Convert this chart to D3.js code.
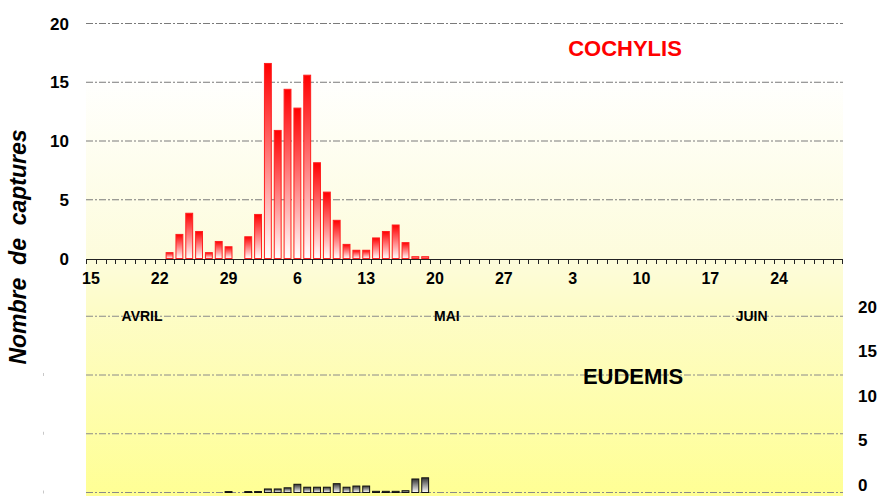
<!DOCTYPE html>
<html>
<head>
<meta charset="utf-8">
<script src="https://cdn.jsdelivr.net/npm/d3@7"></script>
<style>
  body { margin: 0; background: #fff; }
  text { font-family: Arial, "Liberation Sans", sans-serif; font-weight: bold; }
</style>
</head>
<body>
<svg id="chart" width="879" height="496"></svg>
<script>
// categories: one per day, 15 april -> 30 june
const days = d3.timeDay.range(new Date(2009, 3, 15), new Date(2009, 6, 1));
const dayKey = d3.timeFormat("%m-%d");

// tick labels (every 7 days) and month labels
const tickLabels = ["15", "22", "29", "6", "13", "20", "27", "3", "10", "17", "24"];
const months = [
  { name: "AVRIL", day: "04-20" },
  { name: "MAI", day: "05-21" },
  { name: "JUIN", day: "06-21" }
];

// COCHYLIS captures
const cochylisDays = ["04-23", "04-24", "04-25", "04-26", "04-27", "04-28", "04-29", "05-01",
  "05-02", "05-03", "05-04", "05-05", "05-06", "05-07", "05-08", "05-09", "05-10", "05-11",
  "05-12", "05-13", "05-14", "05-15", "05-16", "05-17", "05-18", "05-19"];
const cochylisValues = [0.5, 2.05, 3.85, 2.3, 0.5, 1.45, 1.0, 1.85,
  3.75, 16.6, 10.9, 14.4, 12.8, 15.6, 8.15, 5.65, 3.25, 1.2,
  0.7, 0.7, 1.75, 2.3, 2.85, 1.35, 0.15, 0.15];

// EUDEMIS captures
const eudemisDays = ["04-29", "05-01", "05-02", "05-03", "05-04", "05-05", "05-06", "05-07",
  "05-08", "05-09", "05-10", "05-11", "05-12", "05-13", "05-14", "05-15", "05-16", "05-17",
  "05-18", "05-19"];
const eudemisValues = [0.08, 0.08, 0.08, 0.3, 0.3, 0.4, 0.7, 0.45,
  0.45, 0.45, 0.75, 0.45, 0.55, 0.55, 0.1, 0.1, 0.1, 0.15,
  1.15, 1.25];

const yTicks = [0, 5, 10, 15, 20];

const svg = d3.select("#chart");
const left = 86, right = 843;

// scales
const xDay = d3.scaleBand().domain(days.map(dayKey)).range([left, right]);
const xBar = d3.scaleBand().domain(days.map(dayKey)).range([left, right])
  .paddingInner(0.3).paddingOuter(0.15);
const yTop = d3.scaleLinear().domain([0, 20]).range([258.5, 23.5]);
const yBot = d3.scaleLinear().domain([0, 20]).range([492.5, 257.5]);
const yRight = d3.scaleLinear().domain([0, 20]).range([485, 306.5]);

// gradients
const defs = svg.append("defs");
const bg = defs.append("linearGradient").attr("id", "bg")
  .attr("x1", 0).attr("y1", 0).attr("x2", 0).attr("y2", 1);
bg.append("stop").attr("offset", "0%").attr("stop-color", "#ffffff");
bg.append("stop").attr("offset", "15%").attr("stop-color", "#ffffff");
bg.append("stop").attr("offset", "52%").attr("stop-color", "#fdfcdc");
bg.append("stop").attr("offset", "62%").attr("stop-color", "#fdfcc8");
bg.append("stop").attr("offset", "100%").attr("stop-color", "#ffff94");

const red = defs.append("linearGradient").attr("id", "redBar")
  .attr("x1", 0).attr("y1", 0).attr("x2", 0).attr("y2", 1);
red.append("stop").attr("offset", "0%").attr("stop-color", "#ff0000");
red.append("stop").attr("offset", "100%").attr("stop-color", "#ffffff");

const grey = defs.append("linearGradient").attr("id", "greyBar")
  .attr("x1", 0).attr("y1", 0).attr("x2", 0).attr("y2", 1);
grey.append("stop").attr("offset", "0%").attr("stop-color", "#333333");
grey.append("stop").attr("offset", "100%").attr("stop-color", "#ffffff");

// plot background
svg.append("rect")
  .attr("x", left).attr("y", 0)
  .attr("width", right - left).attr("height", 496)
  .attr("fill", "url(#bg)");

// gridlines
const dash = "7,2,2,2";
svg.append("g").selectAll("line")
  .data(yTicks.filter(d => d > 0))
  .enter().append("line")
  .attr("x1", left).attr("x2", right)
  .attr("y1", d => yTop(d)).attr("y2", d => yTop(d))
  .attr("stroke", "#7a7a7a").attr("stroke-dasharray", dash);

svg.append("g").selectAll("line")
  .data(yTicks.filter(d => d < 20))
  .enter().append("line")
  .attr("x1", left).attr("x2", right)
  .attr("y1", d => yBot(d)).attr("y2", d => yBot(d))
  .attr("stroke", "#8a8a8a").attr("stroke-dasharray", dash);

// small leftover marks left of the lower chart
svg.append("g").selectAll("line")
  .data([0, 5, 10])
  .enter().append("line")
  .attr("x1", 43.5).attr("x2", 43.5)
  .attr("y1", d => yBot(d) - 2).attr("y2", d => yBot(d) + 1)
  .attr("stroke", "#c8c8c8");

// top y labels
svg.append("g").selectAll("text")
  .data(yTicks)
  .enter().append("text")
  .attr("x", 69).attr("y", d => yTop(d))
  .attr("dy", "0.36em")
  .attr("text-anchor", "end")
  .style("font-size", "17px")
  .text(d => d);

// right y labels (lower chart)
svg.append("g").selectAll("text")
  .data(yTicks)
  .enter().append("text")
  .attr("x", 858).attr("y", d => yRight(d))
  .attr("dy", "0.36em")
  .style("font-size", "17px")
  .text(d => d);

// COCHYLIS bars
const cochylis = cochylisDays.map((d, i) => ({ day: d, v: cochylisValues[i] }));
svg.append("g").selectAll("rect")
  .data(cochylis)
  .enter().append("rect")
  .attr("x", d => xBar(d.day))
  .attr("width", xBar.bandwidth())
  .attr("y", d => yTop(d.v))
  .attr("height", d => yTop(0) - yTop(d.v))
  .attr("fill", "url(#redBar)")
  .attr("stroke", "#ff2020").attr("stroke-width", 1);

// EUDEMIS bars
const eudemis = eudemisDays.map((d, i) => ({ day: d, v: eudemisValues[i] }));
svg.append("g").selectAll("rect")
  .data(eudemis)
  .enter().append("rect")
  .attr("x", d => xBar(d.day))
  .attr("width", xBar.bandwidth())
  .attr("y", d => yBot(d.v))
  .attr("height", d => yBot(0) - yBot(d.v))
  .attr("fill", "url(#greyBar)")
  .attr("stroke", "#111").attr("stroke-width", 1);

// x axis of the top chart
const axisY = 259.5;
svg.append("line")
  .attr("x1", left).attr("x2", right)
  .attr("y1", axisY).attr("y2", axisY)
  .attr("stroke", "#222");
svg.append("g").selectAll("line")
  .data(days.map(dayKey).concat(["end"]))
  .enter().append("line")
  .attr("x1", d => d === "end" ? right - 0.5 : Math.round(xDay(d)) + 0.5)
  .attr("x2", d => d === "end" ? right - 0.5 : Math.round(xDay(d)) + 0.5)
  .attr("y1", axisY).attr("y2", axisY + 4.5)
  .attr("stroke", "#222");

// x tick labels every 7 days
svg.append("g").selectAll("text")
  .data(tickLabels)
  .enter().append("text")
  .attr("x", (d, i) => xDay(dayKey(days[i * 7])) + xDay.bandwidth() / 2)
  .attr("y", 278)
  .attr("dy", "0.36em")
  .attr("text-anchor", "middle")
  .style("font-size", "16px")
  .text(d => d);

// month labels on the lower chart
svg.append("g").selectAll("text")
  .data(months)
  .enter().append("text")
  .attr("x", d => xDay(d.day) + xDay.bandwidth() / 2 + 2)
  .attr("y", yBot(15))
  .attr("dy", "0.36em")
  .attr("text-anchor", "middle")
  .style("font-size", "14px")
  .text(d => d.name);

// series names
svg.append("text")
  .attr("x", 625).attr("y", 48)
  .attr("dy", "0.36em")
  .attr("text-anchor", "middle")
  .attr("fill", "#ff0000")
  .style("font-size", "22px")
  .text("COCHYLIS");

svg.append("text")
  .attr("x", 633).attr("y", 376.5)
  .attr("dy", "0.36em")
  .attr("text-anchor", "middle")
  .attr("fill", "#000")
  .style("font-size", "22px")
  .text("EUDEMIS");

// y axis title
svg.append("text")
  .attr("transform", "translate(26,247) rotate(-90)")
  .attr("text-anchor", "middle")
  .style("font-size", "23px")
  .style("font-style", "italic")
  .style("white-space", "pre")
  .text("Nombre  de  captures");
</script>
</body>
</html>
